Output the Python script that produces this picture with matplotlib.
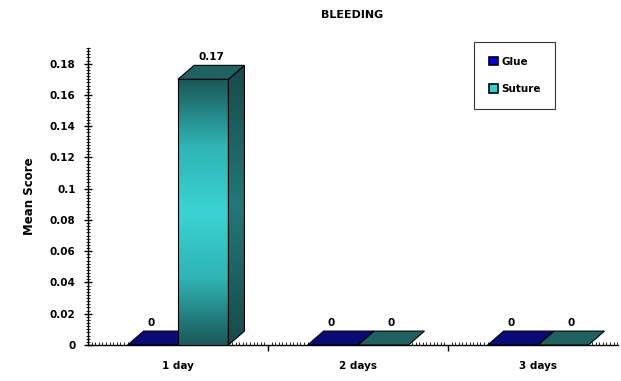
import numpy as np
import matplotlib
matplotlib.use("Agg")
import matplotlib.pyplot as plt
from matplotlib.patches import Polygon, Rectangle
from matplotlib.colors import LinearSegmentedColormap
from matplotlib.ticker import MultipleLocator, FixedLocator

categories = ["1 day", "2 days", "3 days"]
series_names = ["Glue", "Suture"]
glue = [0, 0, 0]
suture = [0.17, 0, 0]
y_ticks = [0, 0.02, 0.04, 0.06, 0.08, 0.1, 0.12, 0.14, 0.16, 0.18]
y_tick_labels = ["0", "0.02", "0.04", "0.06", "0.08", "0.1", "0.12", "0.14", "0.16", "0.18"]

W, H = 621, 381
fig = plt.figure(figsize=(W / 100, H / 100), dpi=100)
ax = fig.add_axes([88 / W, (H - 345) / H, 530 / W, 297 / H])

bw = 0.28
dx = 0.089
dy = 0.0089

glue_col = "#0b0b78"
teal_top = "#1f6262"
teal_side = "#1b5252"
teal_cmap = LinearSegmentedColormap.from_list("teal", ["#1a5858", "#2fb4b4", "#3bd3d3", "#2fb4b4", "#1a5858"])
side_cmap = LinearSegmentedColormap.from_list("side", ["#194a4a", "#237878", "#194a4a"])


def draw_bar(x0, val, front_col, top_col, side_col, z, gradient=None, side_grad=None, label_dx=0.0):
    x1 = x0 + bw
    if val > 0:
        if gradient is not None:
            grad = np.linspace(0, 1, 256).reshape(-1, 1)
            ax.imshow(grad, extent=[x0, x1, 0, val], aspect="auto", cmap=gradient,
                      origin="lower", zorder=z, interpolation="bicubic")
            ax.add_patch(Rectangle((x0, 0), bw, val, fill=False, ec="black", lw=0.8, zorder=z + 0.5))
        else:
            ax.add_patch(Rectangle((x0, 0), bw, val, fc=front_col, ec="black", lw=0.8, zorder=z))
        if side_grad is not None:
            grad = np.linspace(0, 1, 256).reshape(-1, 1)
            im = ax.imshow(grad, extent=[x1, x1 + dx, 0, val + dy], aspect="auto", cmap=side_grad,
                           origin="lower", zorder=z, interpolation="bicubic")
            side = Polygon([[x1, 0], [x1 + dx, dy], [x1 + dx, val + dy], [x1, val]], closed=True,
                           fill=False, ec="black", lw=0.8, zorder=z + 0.5)
            ax.add_patch(side)
            im.set_clip_path(side)
        else:
            ax.add_patch(Polygon([[x1, 0], [x1 + dx, dy], [x1 + dx, val + dy], [x1, val]],
                                 closed=True, fc=side_col, ec="black", lw=0.8, zorder=z))
    ax.add_patch(Polygon([[x0, val], [x1, val], [x1 + dx, val + dy], [x0 + dx, val + dy]],
                         closed=True, fc=top_col, ec="black", lw=0.8, zorder=z + 0.5))
    ax.text(x0 + bw / 2 + label_dx, val + dy + 0.002, f"{val:g}", ha="center", va="bottom",
            fontsize=7.5, fontweight="bold", zorder=6)


for i in range(len(categories)):
    draw_bar(i - bw, glue[i], glue_col, glue_col, glue_col, 2, label_dx=-0.01)
    draw_bar(i, suture[i], None, teal_top, teal_side, 3.5, gradient=teal_cmap, side_grad=side_cmap,
             label_dx=dx * 0.5)

ax.set_xlim(-0.5, 2.444)
ax.set_ylim(0, 0.19)

for s in ["top", "right"]:
    ax.spines[s].set_visible(False)
ax.spines["left"].set_linewidth(1.0)
ax.spines["bottom"].set_linewidth(1.0)

ax.set_yticks(y_ticks)
ax.set_yticklabels(y_tick_labels, fontsize=7.5, fontweight="bold")
ax.yaxis.set_minor_locator(MultipleLocator(0.002))
ax.tick_params(axis="y", which="major", direction="inout", length=6, width=1.0, pad=6)
ax.tick_params(axis="y", which="minor", direction="inout", length=3, width=0.6)

ax.xaxis.set_major_locator(FixedLocator([0.5, 1.5]))
ax.xaxis.set_minor_locator(MultipleLocator(0.02))
ax.set_xticklabels([])
ax.tick_params(axis="x", which="major", direction="out", length=4, width=1.0)
ax.tick_params(axis="x", which="minor", direction="in", length=2, width=0.6)
for i, c in enumerate(categories):
    ax.text(i, -0.01, c, ha="center", va="top", fontsize=7.5, fontweight="bold")

ax.set_ylabel("Mean Score", fontsize=8.5, fontweight="bold", labelpad=10)
fig.text(352 / W, 1 - 15 / H, "BLEEDING", ha="center", va="center", fontsize=8, fontweight="bold")

handles = [Rectangle((0, 0), 1, 1, fc="#0000ee", ec="black", lw=1.2),
           Rectangle((0, 0), 1, 1, fc="#33d0d0", ec="black", lw=1.2)]
leg = fig.legend(handles, series_names, loc="upper left", bbox_to_anchor=(474 / W, 1 - 42 / H),
                 frameon=True, fancybox=False, edgecolor="black", prop={"size": 7.5, "weight": "bold"},
                 handlelength=0.9, handleheight=0.9, handletextpad=0.3, labelspacing=1.7,
                 borderpad=1.4, borderaxespad=0)
leg.get_frame().set_linewidth(0.8)

fig.savefig("out.png", dpi=100)
